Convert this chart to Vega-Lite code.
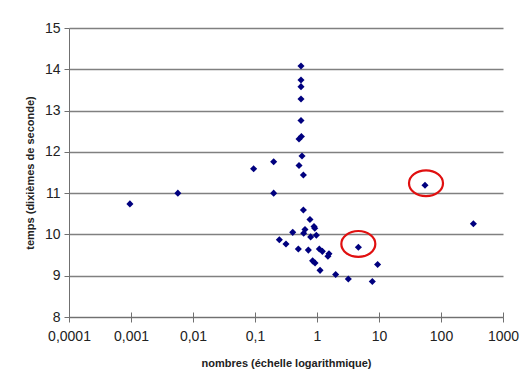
{
  "$schema": "https://vega.github.io/schema/vega-lite/v6.json",
  "width": 434,
  "height": 289,
  "autosize": {"type": "none"},
  "padding": {"left": 69, "top": 28, "right": 27, "bottom": 68},
  "background": "white",
  "config": {"view": {"stroke": null}, "font": "Liberation Sans"},
  "resolve": {"axis": {"x": "independent"}},
  "layer": [
    {
      "data": {"values": [
        {"nombre": 0.00096, "temps": 10.74},
        {"nombre": 0.0057, "temps": 11.0},
        {"nombre": 0.095, "temps": 11.59},
        {"nombre": 0.2, "temps": 11.76},
        {"nombre": 0.2, "temps": 11.0},
        {"nombre": 0.552, "temps": 14.08},
        {"nombre": 0.552, "temps": 13.74},
        {"nombre": 0.552, "temps": 13.58},
        {"nombre": 0.552, "temps": 13.28},
        {"nombre": 0.552, "temps": 12.76},
        {"nombre": 0.56, "temps": 12.37},
        {"nombre": 0.513, "temps": 12.31},
        {"nombre": 0.573, "temps": 11.9},
        {"nombre": 0.513, "temps": 11.67},
        {"nombre": 0.603, "temps": 11.44},
        {"nombre": 0.603, "temps": 10.59},
        {"nombre": 0.77, "temps": 10.36},
        {"nombre": 0.895, "temps": 10.19},
        {"nombre": 0.92, "temps": 10.15},
        {"nombre": 0.64, "temps": 10.12},
        {"nombre": 0.61, "temps": 10.03},
        {"nombre": 0.406, "temps": 10.05},
        {"nombre": 0.247, "temps": 9.87},
        {"nombre": 0.316, "temps": 9.77},
        {"nombre": 0.5, "temps": 9.645},
        {"nombre": 0.725, "temps": 9.62},
        {"nombre": 0.79, "temps": 9.94},
        {"nombre": 0.975, "temps": 9.98},
        {"nombre": 1.09, "temps": 9.645},
        {"nombre": 1.22, "temps": 9.59},
        {"nombre": 1.56, "temps": 9.53},
        {"nombre": 1.5, "temps": 9.47},
        {"nombre": 0.85, "temps": 9.36},
        {"nombre": 0.93, "temps": 9.31},
        {"nombre": 1.12, "temps": 9.13},
        {"nombre": 2.0, "temps": 9.03},
        {"nombre": 3.2, "temps": 8.92},
        {"nombre": 7.8, "temps": 8.86},
        {"nombre": 9.5, "temps": 9.27},
        {"nombre": 4.65, "temps": 9.69},
        {"nombre": 55.2, "temps": 11.19},
        {"nombre": 333, "temps": 10.26}
      ]},
      "mark": {"type": "point", "shape": "diamond", "filled": true, "color": "#00007f", "size": 50, "opacity": 1},
      "encoding": {
        "x": {
          "field": "nombre", "type": "quantitative",
          "scale": {"type": "log", "domain": [0.0001, 1000]},
          "axis": {
            "values": [0.0001, 0.001, 0.01, 0.1, 1, 10, 100, 1000],
            "labelExpr": "replace(toString(datum.value), '.', ',')",
            "labelFlush": false,
            "labelOverlap": false,
            "grid": false,
            "tickSize": 5,
            "tickColor": "#707070",
            "domainColor": "#707070",
            "labelFontSize": 14,
            "labelColor": "#222222",
            "labelPadding": 7,
            "title": "nombres (échelle logarithmique)",
            "titleFontSize": 11,
            "titleFontWeight": "bold",
            "titleColor": "#222222",
            "titlePadding": 14
          }
        },
        "y": {
          "field": "temps", "type": "quantitative",
          "scale": {"domain": [8, 15], "nice": false, "zero": false},
          "axis": {
            "values": [8, 9, 10, 11, 12, 13, 14, 15],
            "labelFlush": false,
            "grid": true,
            "gridColor": "#808080",
            "gridWidth": 1.3,
            "gridOpacity": 1,
            "tickSize": 5,
            "tickColor": "#707070",
            "domainColor": "#707070",
            "labelFontSize": 14,
            "labelColor": "#222222",
            "labelPadding": 4,
            "title": "temps (dixièmes de seconde)",
            "titleFontSize": 11,
            "titleFontWeight": "bold",
            "titleColor": "#222222",
            "titlePadding": 9
          }
        }
      }
    },
    {
      "data": {"values": [
        {"nombre": 4.64, "temps": 9.77},
        {"nombre": 57.3, "temps": 11.24}
      ]},
      "mark": {"type": "point", "shape": "M -1 0 A 1 0.76 0 1 0 1 0 A 1 0.76 0 1 0 -1 0 Z", "filled": false, "stroke": "#e01010", "strokeWidth": 2.2, "size": 1156, "opacity": 1},
      "encoding": {
        "x": {
          "field": "nombre", "type": "quantitative",
          "axis": {
            "orient": "bottom",
            "values": [0.0001, 0.001, 0.01, 0.1, 1, 10, 100, 1000],
            "tickSize": -5,
            "tickColor": "#707070",
            "labels": false,
            "domain": false,
            "grid": false,
            "title": null
          }
        },
        "y": {"field": "temps", "type": "quantitative"}
      }
    }
  ]
}
